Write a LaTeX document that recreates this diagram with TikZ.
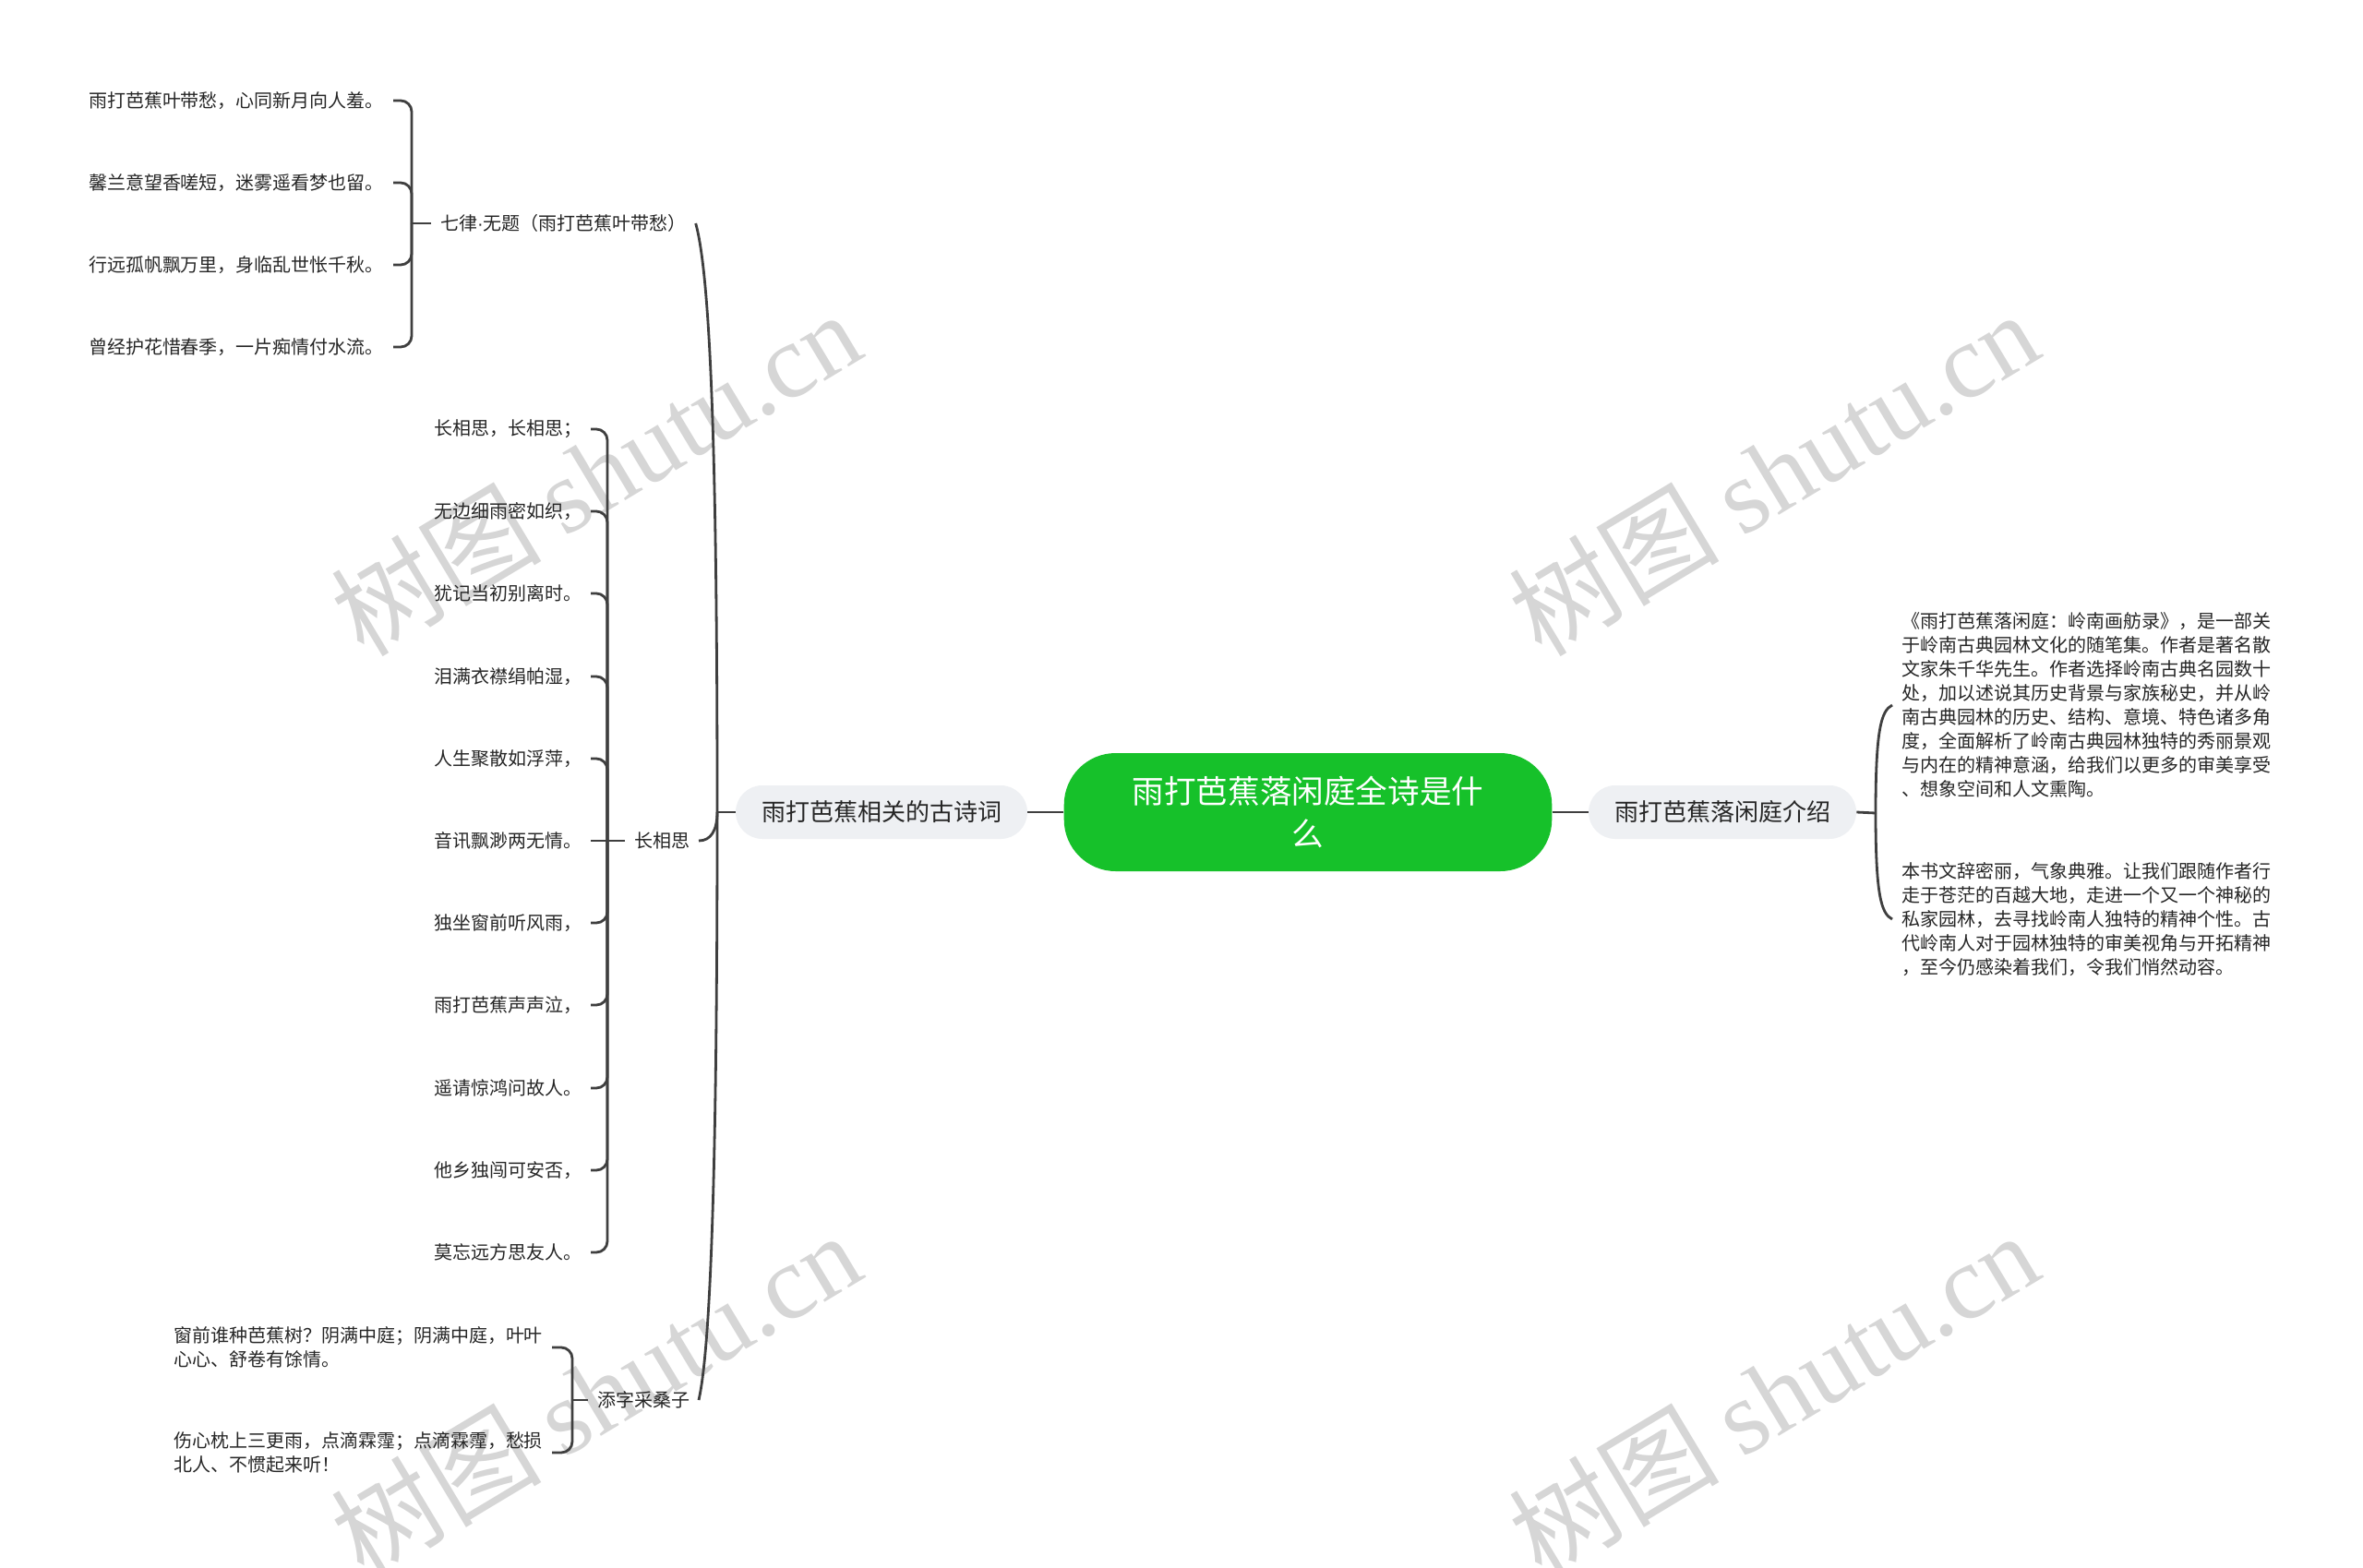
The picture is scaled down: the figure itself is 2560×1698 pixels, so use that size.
\documentclass[tikz,border=0pt]{standalone}
\usepackage{fontspec}
\setmainfont{Noto Sans CJK SC}
\newfontfamily\wmfont{Liberation Serif}
\newfontfamily\dotfont{Liberation Sans}
\usepackage{tikz}

\definecolor{rootgreen}{HTML}{16C12A}
\definecolor{topicgray}{HTML}{EEF0F3}
\definecolor{linkgray}{HTML}{3F3F3F}
\definecolor{wmgray}{HTML}{D6D6D6}

\begin{document}
\begin{tikzpicture}[x=0.5pt,y=-0.5pt,
  link/.style={draw=linkgray,line width=1.4pt},
  root/.style={fill=rootgreen,text=white,rounded corners=28pt,inner xsep=37pt,minimum height=64pt,align=center,font=\fontsize{17.3}{23}\selectfont},
  topic/.style={fill=topicgray,text=black!85,rounded corners=14.5pt,inner xsep=14pt,inner ysep=0pt,minimum height=29pt,font=\fontsize{13}{16}\selectfont},
  sub/.style={anchor=west,inner sep=0pt,outer xsep=5pt,outer ysep=0pt,text=black!85,font=\fontsize{10}{13}\selectfont},
  leaf/.style={anchor=west,inner sep=0pt,outer xsep=5pt,outer ysep=0pt,align=left,text=black!85,font=\fontsize{10}{13}\selectfont},
  wmark/.style={text=wmgray,rotate=31,inner sep=0pt,font=\fontsize{57}{57}\selectfont}
]
% The page
\fill[white] (0,0) rectangle (2560,1698);
\useasboundingbox (0,0) rectangle (2560,1698);

% The watermarks
\node[wmark] (wm1) at (645,512) {树图 {\wmfont shutu.cn}};
\node[wmark] (wm2) at (1921,512) {树图 {\wmfont shutu.cn}};
\node[wmark] (wm3) at (645,1510) {树图 {\wmfont shutu.cn}};
\node[wmark] (wm4) at (1921,1510) {树图 {\wmfont shutu.cn}};

% The main topics
\node[root] (root) at (1417,880) {雨打芭蕉落闲庭全诗是什\\么};
\node[topic] (poems) at (955,880) {雨打芭蕉相关的古诗词};
\node[topic] (intro) at (1866,880) {雨打芭蕉落闲庭介绍};

% The poems
\node[sub] (qilv) at (467,242) {七律{\dotfont ·}无题（雨打芭蕉叶带愁）};
\node[sub] (cxs) at (677,911) {长相思};
\node[sub] (tzcs) at (637,1517) {添字采桑子};

\node[leaf] (q1) at (86,109) {雨打芭蕉叶带愁，心同新月向人羞。};
\node[leaf] (q2) at (86,198) {馨兰意望香嗟短，迷雾遥看梦也留。};
\node[leaf] (q3) at (86,287) {行远孤帆飘万里，身临乱世怅千秋。};
\node[leaf] (q4) at (86,376) {曾经护花惜春季，一片痴情付水流。};

\node[leaf] (c1) at (460,465) {长相思，长相思；};
\node[leaf] (c2) at (460,554) {无边细雨密如织，};
\node[leaf] (c3) at (460,643) {犹记当初别离时。};
\node[leaf] (c4) at (460,733) {泪满衣襟绢帕湿，};
\node[leaf] (c5) at (460,822) {人生聚散如浮萍，};
\node[leaf] (c6) at (460,911) {音讯飘渺两无情。};
\node[leaf] (c7) at (460,1000) {独坐窗前听风雨，};
\node[leaf] (c8) at (460,1089) {雨打芭蕉声声泣，};
\node[leaf] (c9) at (460,1179) {遥请惊鸿问故人。};
\node[leaf] (c10) at (460,1268) {他乡独闯可安否，};
\node[leaf] (c11) at (460,1357) {莫忘远方思友人。};

\node[leaf] (t1) at (178,1460) {窗前谁种芭蕉树？阴满中庭；阴满中庭，叶叶\\心心、舒卷有馀情。};
\node[leaf] (t2) at (178,1574) {伤心枕上三更雨，点滴霖霪；点滴霖霪，愁损\\北人、不惯起来听！};

% The introduction
\node[leaf] (b1) at (2050,764) {《雨打芭蕉落闲庭：岭南画舫录》，是一部关\\
于岭南古典园林文化的随笔集。作者是著名散\\
文家朱千华先生。作者选择岭南古典名园数十\\
处，加以述说其历史背景与家族秘史，并从岭\\
南古典园林的历史、结构、意境、特色诸多角\\
度，全面解析了岭南古典园林独特的秀丽景观\\
与内在的精神意涵，给我们以更多的审美享受\\
、想象空间和人文熏陶。};
\node[leaf] (b2) at (2050,996) {本书文辞密丽，气象典雅。让我们跟随作者行\\
走于苍茫的百越大地，走进一个又一个神秘的\\
私家园林，去寻找岭南人独特的精神个性。古\\
代岭南人对于园林独特的审美视角与开拓精神\\
，至今仍感染着我们，令我们悄然动容。};

% The junctions
\coordinate (j-left) at (777,880);
\coordinate (j-right) at (2032,881);
\coordinate (j-qilv) at (446,242);
\coordinate (j-cxs) at (658,911);
\coordinate (j-tzcs) at (620,1517);

% The connectors
\draw[link] (root.west) -- (poems.east);
\draw[link] (root.east) -- (intro.west);

\draw[link] (poems.west) -- (j-left);
\draw[link] (j-left) .. controls (777,500) and (770,300) .. (qilv.east);
\draw[link] (j-left) .. controls (777,900) and (770,911) .. (cxs.east);
\draw[link] (j-left) .. controls (777,1260) and (770,1460) .. (tzcs.east);

\draw[link] (intro.east) -- (j-right);
\draw[link] (j-right) .. controls (2032,790) and (2038,770) .. (b1.west);
\draw[link] (j-right) .. controls (2032,970) and (2038,990) .. (b2.west);

\draw[link] (qilv.west) -- (j-qilv);
\draw[link,rounded corners=6pt] (j-qilv) |- (q1.east);
\draw[link,rounded corners=6pt] (j-qilv) |- (q2.east);
\draw[link,rounded corners=6pt] (j-qilv) |- (q3.east);
\draw[link,rounded corners=6pt] (j-qilv) |- (q4.east);

\draw[link] (cxs.west) -- (j-cxs);
\draw[link,rounded corners=6pt] (j-cxs) |- (c1.east);
\draw[link,rounded corners=6pt] (j-cxs) |- (c2.east);
\draw[link,rounded corners=6pt] (j-cxs) |- (c3.east);
\draw[link,rounded corners=6pt] (j-cxs) |- (c4.east);
\draw[link,rounded corners=6pt] (j-cxs) |- (c5.east);
\draw[link] (j-cxs) -- (c6.east);
\draw[link,rounded corners=6pt] (j-cxs) |- (c7.east);
\draw[link,rounded corners=6pt] (j-cxs) |- (c8.east);
\draw[link,rounded corners=6pt] (j-cxs) |- (c9.east);
\draw[link,rounded corners=6pt] (j-cxs) |- (c10.east);
\draw[link,rounded corners=6pt] (j-cxs) |- (c11.east);

\draw[link] (tzcs.west) -- (j-tzcs);
\draw[link,rounded corners=6pt] (j-tzcs) |- (t1.east);
\draw[link,rounded corners=6pt] (j-tzcs) |- (t2.east);
\end{tikzpicture}
\end{document}
